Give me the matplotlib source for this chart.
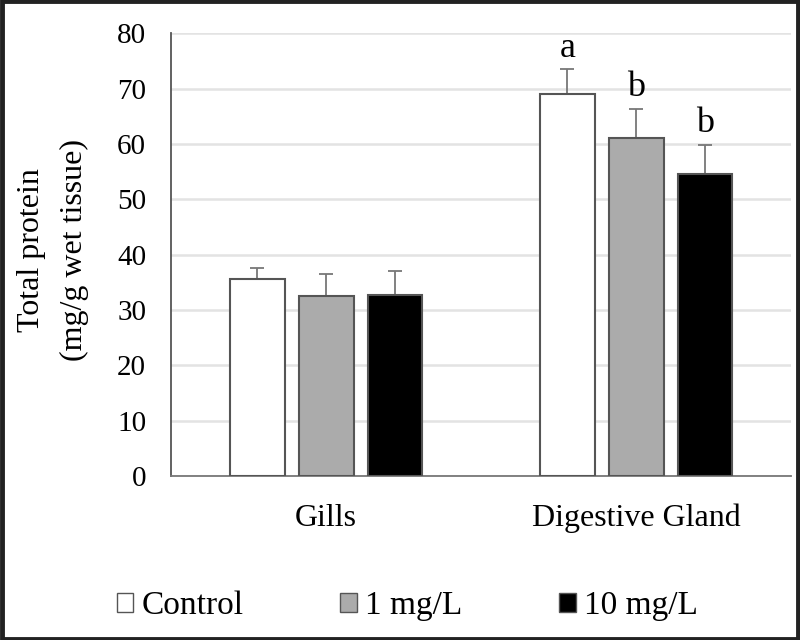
import matplotlib.pyplot as plt
import numpy as np
from matplotlib.patches import Patch, Rectangle

plt.rcParams['font.family'] = ['Liberation Serif', 'DejaVu Serif']

# -----------------------------
# Data
# -----------------------------
tissues = ['Gills', 'Digestive Gland']
groups = ['Control', '1 mg/L', '10 mg/L']
means = {
    'Control': [35.6, 69.0],
    '1 mg/L': [32.5, 61.1],
    '10 mg/L': [32.8, 54.5],
}
errors = {
    'Control': [2.0, 4.5],
    '1 mg/L': [4.0, 5.3],
    '10 mg/L': [4.2, 5.3],
}
letters = {
    'Control': ['', 'a'],
    '1 mg/L': ['', 'b'],
    '10 mg/L': ['', 'b'],
}
colors = {'Control': 'white', '1 mg/L': '#ababab', '10 mg/L': 'black'}

fig = plt.figure(figsize=(8, 6.4), dpi=100)
ax = fig.add_axes([0.214, 0.256, 0.775, 0.692])

x = np.arange(len(tissues))
width = 0.177
step = 0.222
for i, g in enumerate(groups):
    pos = x + (i - 1) * step
    ax.bar(pos, means[g], width, color=colors[g], edgecolor='#555555',
           linewidth=1.5, zorder=3)
    ax.errorbar(pos, means[g], yerr=[np.zeros(len(tissues)), errors[g]],
                fmt='none', ecolor='#777777', elinewidth=1.3, capsize=5,
                capthick=1.3, zorder=2)
    for p, m, e, t in zip(pos, means[g], errors[g], letters[g]):
        if t:
            ax.text(p, m + e + 2.3, t, ha='center', va='baseline', fontsize=26)

ax.set_xlim(-0.5, 1.5)
ax.set_ylim(0, 80)
ax.set_yticks(np.arange(0, 81, 10))
ax.set_xticks(x)
ax.set_xticklabels(tissues, fontsize=23)
ax.tick_params(axis='y', labelsize=21, length=0, pad=18)
ax.tick_params(axis='x', length=0, pad=20)
ax.yaxis.grid(True, color='#e3e3e3', linewidth=1.8, zorder=0)
ax.set_axisbelow(True)
for s in ['top', 'right']:
    ax.spines[s].set_visible(False)
ax.spines['left'].set_color('#555555')
ax.spines['left'].set_linewidth(1.3)
ax.spines['bottom'].set_color('#777777')
ax.spines['bottom'].set_linewidth(1.3)

fig.text(53 / 800, 0.61, 'Total protein\n(mg/g wet tissue)', rotation=90,
         ha='center', va='center', fontsize=23, linespacing=1.6)

handles = [Patch(facecolor=colors[g], edgecolor='#555555', linewidth=1)
           for g in groups]
fig.legend(handles, groups, loc='center left', bbox_to_anchor=(0.146, 0.053),
           ncol=3, frameon=False, fontsize=24, handlelength=0.5,
           handleheight=0.5, handletextpad=0.25, columnspacing=2.9,
           borderpad=0, borderaxespad=0)

# outer frame
fig.patches.append(Rectangle((0.002, 0.002), 0.996, 0.996, transform=fig.transFigure,
                             fill=False, edgecolor='#222222', linewidth=3.5))

plt.savefig('out.png')
plt.close()
